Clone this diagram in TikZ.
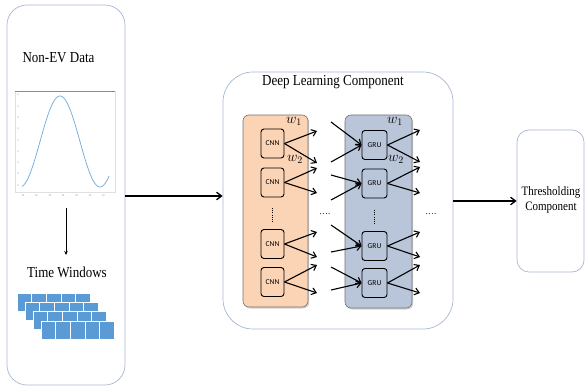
\documentclass[tikz,border=0pt]{standalone}
\usepackage{fontspec}
\usepackage{graphicx}
\setmainfont{Liberation Serif}
\newfontfamily\boxfont{Carlito}
\usetikzlibrary{arrows.meta,shadows,calc}
\definecolor{panelline}{HTML}{A8B6D4}
\definecolor{peach}{HTML}{FBD3B5}
\definecolor{slate}{HTML}{B9C5D9}
\definecolor{tilefill}{HTML}{5B9BD5}
\definecolor{curve}{HTML}{6FA8DC}
\newcommand\talltext[1]{\scalebox{1}[1.17]{#1}}
\begin{document}
\begin{tikzpicture}[x=1pt,y=-1pt,
  panel/.style={draw=panelline, line width=0.7pt, fill=white, inner sep=0pt},
  layer/.style={draw=black!55, line width=0.6pt, rounded corners=6pt, inner sep=0pt,
    drop shadow={shadow xshift=1.2pt, shadow yshift=-1.5pt, opacity=0.35}},
  unit/.style={draw=black, line width=0.9pt, rounded corners=3pt, minimum width=23pt,
    minimum height=29pt, inner sep=0pt, font=\boxfont\fontsize{7.5}{8}\selectfont},
  link/.style={-{Straight Barb[length=4.5pt,width=7pt]}, line width=1.1pt},
  flow/.style={-{Straight Barb[length=5pt,width=7.5pt]}, line width=1.3pt},
  lbl/.style={font=\fontsize{13}{15}\selectfont, inner sep=0pt},
  wt/.style={font=\fontsize{14}{14}\selectfont, inner sep=0pt},
  tick/.style={font=\fontsize{2.5}{3}\selectfont, text=black!50, inner sep=0pt},
  gapdots/.style={font=\fontsize{9}{9}\selectfont, inner sep=0pt},
]
\useasboundingbox (0,0) rectangle (585,387);

% outer panels
\node[panel, rounded corners=20pt, minimum width=118pt, minimum height=380pt] (src) at (66,195) {};
\node[panel, rounded corners=30pt, minimum width=230pt, minimum height=257pt] (dl) at (338,200.5) {};
\node[panel, rounded corners=12pt, minimum width=67pt, minimum height=142pt] (th) at (550.5,201) {};

% panel titles
\node[lbl] (t1) at (58.5,58) {\talltext{Non-EV Data}};
\node[lbl] (t2) at (67,272) {\talltext{Time Windows}};
\node[lbl] (t3) at (333,82) {\talltext{Deep Learning Component}};
\node[font=\fontsize{11}{15}\selectfont, align=center, inner sep=0pt] (t4) at (551,200)
  {\talltext{Thresholding}\\\talltext{Component}};

% raw signal plot
\draw[black!12, line width=0.5pt] (15,91) rectangle (115,192);
\draw[black!45, line width=0.7pt] (15,91) -- (115,91);
\draw[curve, line width=0.7pt] plot[domain=22:109, samples=90, smooth]
  (\x,{141.5-45.5*cos(4.5*(\x-60))});
\foreach \k in {0,...,8} \node[tick] at (18,{95+11.3*\k}) {0};
\foreach \k in {0,...,6} \node[tick] at ({23+13.4*\k},196) {20};

% signal to windows
\coordinate (p0) at (66,208);
\coordinate (p1) at (66,255);
\draw[-{Stealth[length=4pt,width=3.5pt]}, line width=0.8pt] (p0) -- (p1);

% stacked time windows
\foreach \xo/\yo in {17/293, 25/302.3, 33/311.6, 41/321} {
  \fill[tilefill] (\xo,\yo) rectangle ++(73,18);
  \foreach \c in {1,...,4} \draw[white, line width=0.6pt] ({\xo+14.6*\c},\yo) -- ++(0,18);
  \draw[white, line width=0.5pt] (\xo,\yo) rectangle ++(73,18);
}

% layer stacks
\node[layer, fill=peach, minimum width=65pt, minimum height=192pt] (cnnstack) at (275.5,211) {};
\node[layer, fill=slate, minimum width=67pt, minimum height=193pt] (grustack) at (378.5,211.5) {};

% CNN units
\node[unit, fill=peach] (c1) at (272.5,143.5) {CNN};
\node[unit, fill=peach] (c2) at (272.5,182.5) {CNN};
\node[unit, fill=peach] (c3) at (272.5,244) {CNN};
\node[unit, fill=peach] (c4) at (272.5,282) {CNN};

% GRU units
\node[unit, fill=slate, minimum width=25pt] (g1) at (374.5,145) {GRU};
\node[unit, fill=slate, minimum width=25pt] (g2) at (374.5,183.5) {GRU};
\node[unit, fill=slate, minimum width=25pt] (g3) at (374.5,246) {GRU};
\node[unit, fill=slate, minimum width=25pt] (g4) at (374.5,283) {GRU};

% CNN output ends
\coordinate (a11) at (317,131); \coordinate (a12) at (317,163);
\coordinate (a21) at (317,168); \coordinate (a22) at (317,193);
\coordinate (a31) at (317,232); \coordinate (a32) at (317,257);
\coordinate (a41) at (317,265); \coordinate (a42) at (317,293);
% GRU input starts
\coordinate (b11) at (331,122); \coordinate (b12) at (331,162);
\coordinate (b21) at (331,175); \coordinate (b22) at (331,200);
\coordinate (b31) at (331,225); \coordinate (b32) at (331,252);
\coordinate (b41) at (331,267); \coordinate (b42) at (331,290);
% GRU output ends
\coordinate (e11) at (420,130); \coordinate (e12) at (420,162);
\coordinate (e21) at (420,167); \coordinate (e22) at (420,193);
\coordinate (e31) at (420,232); \coordinate (e32) at (420,257);
\coordinate (e41) at (420,265); \coordinate (e42) at (420,293);

\foreach \i in {1,...,4} {
  \draw[link] (c\i.east) -- (a\i1);
  \draw[link] (c\i.east) -- (a\i2);
  \draw[link] (b\i1) -- (g\i.west);
  \draw[link] (b\i2) -- (g\i.west);
  \draw[link] (g\i.east) -- (e\i1);
  \draw[link] (g\i.east) -- (e\i2);
}

% vertical ellipses inside stacks
\draw[line width=1.2pt, dash pattern=on 0.9pt off 1.3pt] (272.5,208) -- (272.5,223);
\draw[line width=1.2pt, dash pattern=on 0.9pt off 1.3pt] (374.5,210) -- (374.5,225);

% horizontal ellipses between stages
\node[gapdots] (gap1) at (325,214) {.\kern0.6pt.\kern0.6pt.\kern0.6pt.};
\node[gapdots] (gap2) at (431,214) {.\kern0.6pt.\kern0.6pt.\kern0.6pt.};

% weight labels
\node[wt] (w1a) at (294,121) {$w_1$};
\node[wt] (w2a) at (295,159) {$w_2$};
\node[wt] (w1b) at (395,121) {$w_1$};
\node[wt] (w2b) at (396,159) {$w_2$};

% main flow
\coordinate (lvl) at (0,196);
\draw[flow] (src.east |- lvl) -- (dl.west |- lvl);
\draw[flow] (dl.east |- th.west) -- (th.west);
\end{tikzpicture}
\end{document}
